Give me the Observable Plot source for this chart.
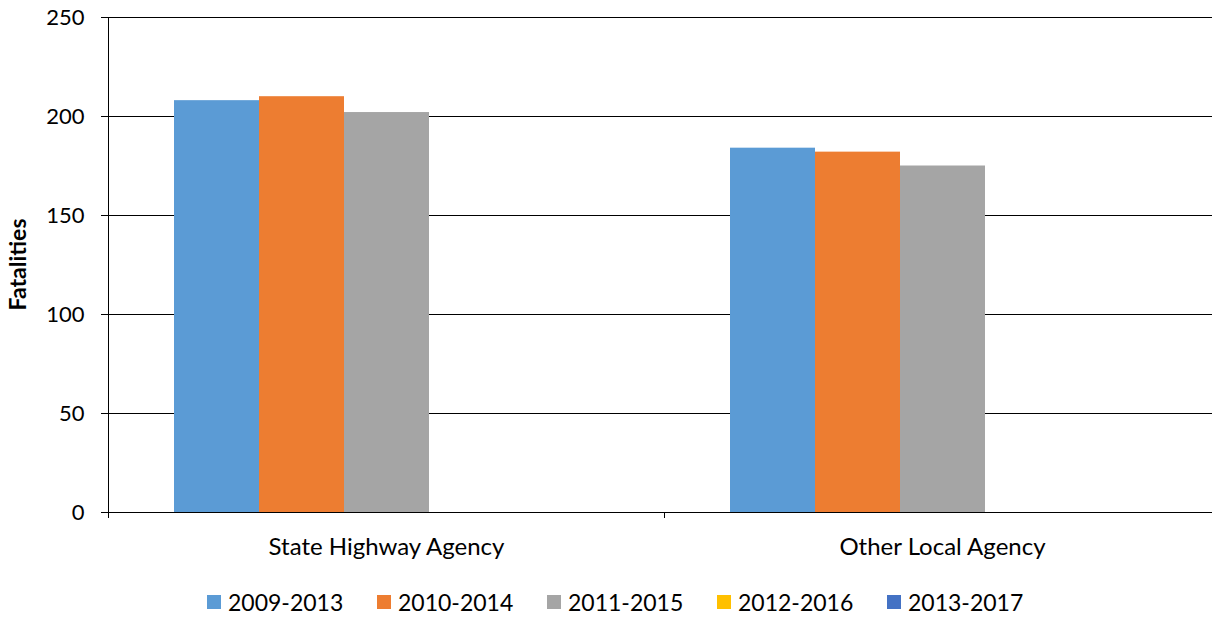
<!DOCTYPE html>
<html><head><meta charset="utf-8">
<script src="https://cdn.jsdelivr.net/npm/d3@7"></script>
<script src="https://cdn.jsdelivr.net/npm/@observablehq/plot@0.6"></script>
<style>
html,body{margin:0;padding:0;background:#fff;overflow:hidden;width:1212px;height:619px}
#chart svg{display:block;max-width:none !important}
#legend{display:flex;margin-top:20px;padding-left:207px;font-family:Lato,"Open Sans",sans-serif;font-size:23px;line-height:24px;color:#000}
#legend .item{display:flex;align-items:center;width:170px;flex:none}
#legend .sw{width:14px;height:14px;margin-right:7px;flex:none}
</style></head><body>
<div id="chart"></div>
<div id="legend"></div>
<script>
const categories = ["State Highway Agency", "Other Local Agency"];
const seriesNames = ["2009-2013", "2010-2014", "2011-2015", "2012-2016", "2013-2017"];
const stateHighway = [208, 210, 202, null, null];
const otherLocal = [184, 182, 175, null, null];
const colors = ["#5B9BD5", "#ED7D31", "#A5A5A5", "#FFC000", "#4472C4"];
const yTicks = [0, 50, 100, 150, 200, 250];
const yLabel = "Fatalities";

const valuesByCategory = [stateHighway, otherLocal];
const rows = [];
categories.forEach((c, i) => seriesNames.forEach((s, j) => {
  if (valuesByCategory[i][j] != null) rows.push({category: c, series: s, value: valuesByCategory[i][j]});
}));

const font = "Lato, 'Open Sans', sans-serif";
const plot = Plot.plot({
  width: 1220, height: 570,
  marginLeft: 108, marginRight: 0, marginTop: 17, marginBottom: 58,
  style: {fontFamily: font, fontSize: "22px", color: "#000", background: "#fff", maxWidth: "none"},
  fx: {domain: categories, padding: 0, label: null, tickSize: 0, tickPadding: 25},
  x: {domain: seriesNames, paddingInner: 0, paddingOuter: 0.733, axis: null},
  y: {domain: [0, 250], ticks: yTicks, tickSize: 7, tickPadding: 17, label: null},
  color: {domain: seriesNames, range: colors},
  marks: [
    Plot.ruleY(yTicks, {stroke: "#000", strokeWidth: 1}),
    Plot.barY(rows, {fx: "category", x: "series", y: "value", fill: "series"})
  ]
});
document.getElementById("chart").appendChild(plot);

const svg = d3.select(plot);
svg.selectAll('g[aria-label="fx-axis"] text, g[aria-label="fx-axis tick label"] text').attr("font-size", 24).style("font-size", "24px");

// axis line, category boundary ticks and y label, from Plot's own scales
const fx = plot.scale("fx"), y = plot.scale("y");
const g = svg.append("g").attr("stroke", "#000").attr("stroke-width", 1);
const x0 = fx.apply(categories[0]);
g.append("line").attr("x1", x0 + 0.5).attr("x2", x0 + 0.5).attr("y1", y.apply(250)).attr("y2", y.apply(0) + 6);
categories.forEach(c => {
  const xe = fx.apply(c) + fx.bandwidth;
  g.append("line").attr("x1", xe + 0.5).attr("x2", xe + 0.5).attr("y1", y.apply(0)).attr("y2", y.apply(0) + 6);
});
const yMid = (y.apply(0) + y.apply(250)) / 2;
svg.append("text")
  .attr("transform", `translate(${x0 - 90},${yMid}) rotate(-90)`)
  .attr("text-anchor", "middle")
  .attr("dy", "0.35em")
  .attr("font-family", font).attr("font-size", 23).attr("font-weight", "bold").attr("fill", "#000")
  .text(yLabel);

const legend = d3.select("#legend");
seriesNames.forEach((s, i) => {
  const it = legend.append("div").attr("class", "item");
  it.append("div").attr("class", "sw").style("background", colors[i]);
  it.append("span").text(s);
});
</script>
</body></html>
